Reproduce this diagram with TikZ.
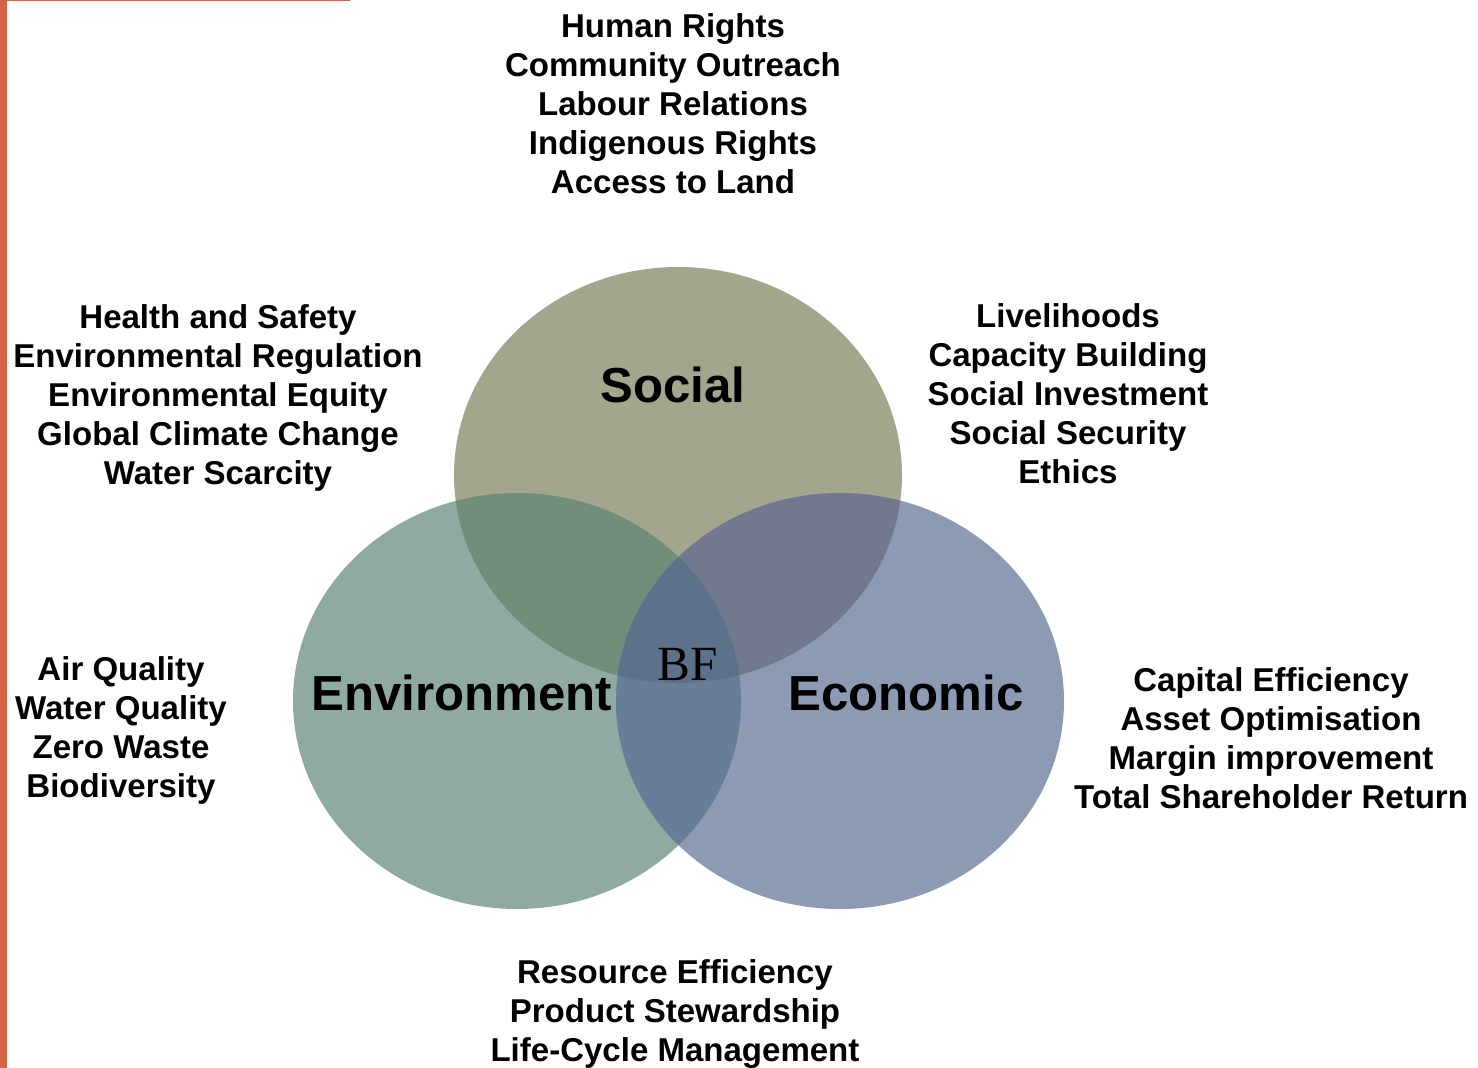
\documentclass[tikz,border=0pt]{standalone}
\usepackage{fontspec}
\setmainfont{Liberation Sans}
\newfontfamily\serifbf{Liberation Serif}
\usetikzlibrary{positioning}

\definecolor{socialc}{HTML}{A3A58C}
\definecolor{envc}{HTML}{8FAAA0}
\definecolor{econc}{HTML}{8C9AB4}
\definecolor{socenv}{HTML}{728E7A}
\definecolor{soceco}{HTML}{72798E}
\definecolor{enveco}{HTML}{687D97}
\definecolor{allc}{HTML}{5C718A}
\definecolor{edgec}{HTML}{D5634A}

\tikzset{
  notes/.style={align=center, font=\bfseries\fontsize{18.8}{22.2}\selectfont},
  title/.style={font=\bfseries\fontsize{28}{32}\selectfont}
}

\begin{document}
\begin{tikzpicture}[x=0.02cm, y=-0.02cm]
\useasboundingbox (0,0) rectangle (1478,1068);
\fill[white] (0,0) rectangle (1478,1068);

% Sizes
\def\rx{224}
\def\ry{208}

% Page edge
\fill[edgec] (0,0) rectangle (6.5,1068);
\fill[edgec] (0,0) rectangle (350,1.5);

% Circle centres
\coordinate (soc) at (678,475);
\coordinate (env) at (517,701);
\coordinate (eco) at (840,701);

% Circles
\fill[socialc] (soc) ellipse [x radius=\rx, y radius=\ry];
\fill[envc] (env) ellipse [x radius=\rx, y radius=\ry];
\fill[econc] (eco) ellipse [x radius=\rx, y radius=\ry];

% Overlaps
\begin{scope}
  \clip (soc) ellipse [x radius=\rx, y radius=\ry];
  \fill[socenv] (env) ellipse [x radius=\rx, y radius=\ry];
  \fill[soceco] (eco) ellipse [x radius=\rx, y radius=\ry];
\end{scope}
\begin{scope}
  \clip (env) ellipse [x radius=\rx, y radius=\ry];
  \fill[enveco] (eco) ellipse [x radius=\rx, y radius=\ry];
  \clip (eco) ellipse [x radius=\rx, y radius=\ry];
  \fill[allc] (soc) ellipse [x radius=\rx, y radius=\ry];
\end{scope}

% Titles
\node[title] (social) at (673,385) {Social};
\node[title] (environment) at (462,693) {Environment};
\node[title] (economic) at (906,693) {Economic};
\node[font=\serifbf\fontsize{28}{32}\selectfont] (bf) at (688,664) {BF};

% Notes round the circles
\node[notes] (topnotes) at (673,104) {Human Rights\\Community Outreach\\Labour Relations\\Indigenous Rights\\Access to Land};
\node[notes] (leftupper) at (218,398) {Health and Safety\\Environmental Regulation\\Environmental Equity\\Global Climate Change\\Water Scarcity};
\node[notes] (rightupper) at (1068,394) {Livelihoods\\Capacity Building\\Social Investment\\Social Security\\Ethics};
\node[notes] (leftlower) at (121,730) {Air Quality\\Water Quality\\Zero Waste\\Biodiversity};
\node[notes] (rightlower) at (1271,738) {Capital Efficiency\\Asset Optimisation\\Margin improvement\\Total Shareholder Return};
\node[notes] (bottomnotes) at (675,1014) {Resource Efficiency\\Product Stewardship\\Life-Cycle Management};

\end{tikzpicture}
\end{document}
